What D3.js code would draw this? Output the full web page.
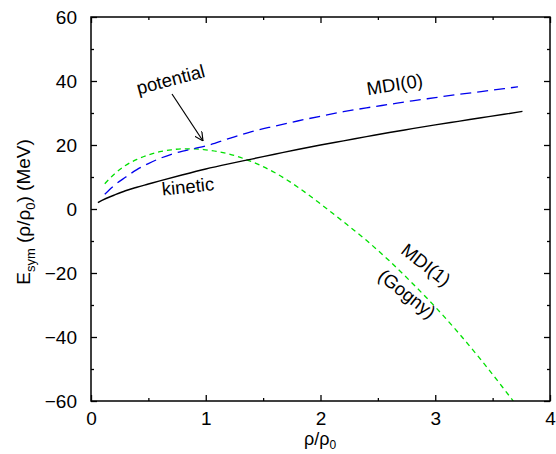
<!DOCTYPE html>
<html><head><meta charset="utf-8">
<script src="https://cdn.jsdelivr.net/npm/d3@7"></script>
<style>body{margin:0;background:#fff}svg{display:block}text{font-family:"Liberation Sans",Arial,sans-serif;fill:#000}</style>
</head><body><svg id="c" width="556" height="454"></svg>
<script>
const kineticX = [0.06,0.1,0.2,0.3,0.4,0.5,0.6,0.8,1.0,1.2,1.4,1.6,1.8,2.0,2.2,2.4,2.6,2.8,3.0,3.2,3.4,3.6,3.76];
const kineticY = [2.0,2.8,4.3,5.7,6.8,7.8,8.8,10.7,12.5,14.1,15.6,17.1,18.6,20.0,21.3,22.6,23.9,25.1,26.3,27.4,28.5,29.6,30.5];
const mdi0X = [0.12,0.2,0.3,0.4,0.5,0.6,0.7,0.8,0.9,1.0,1.2,1.4,1.6,1.8,2.0,2.2,2.4,2.6,2.8,3.0,3.2,3.4,3.6,3.72];
const mdi0Y = [4.6,7.3,9.9,12.3,14.2,15.8,17.1,18.1,18.9,19.7,22.0,24.2,25.9,27.5,29.0,30.4,31.6,32.7,33.8,34.8,35.8,36.7,37.6,38.2];
const mdi1X = [0.12,0.2,0.3,0.4,0.5,0.6,0.7,0.8,0.9,1.0,1.1,1.2,1.4,1.6,1.8,2.0,2.2,2.4,2.6,2.8,3.0,3.2,3.4,3.6,3.68];
const mdi1Y = [7.9,10.8,13.6,15.5,16.9,17.9,18.5,18.8,18.8,18.5,18.0,17.2,14.8,11.4,6.9,1.6,-4.0,-9.8,-16.2,-23.2,-30.6,-38.6,-47.2,-56.3,-60.0];
const xTicks = [0,1,2,3,4];
const yTicks = [-60,-40,-20,0,20,40,60];

const L=91,R=550,T=17,B=401;
const svg=d3.select("#c");
const x=d3.scaleLinear().domain([0,4]).range([L,R]);
const y=d3.scaleLinear().domain([-60,60]).range([B,T]);

const line=d3.line().x(d=>x(d[0])).y(d=>y(d[1])).curve(d3.curveMonotoneX);
const defs=svg.append("defs");
defs.append("clipPath").attr("id","pc").append("rect").attr("x",L).attr("y",T).attr("width",R-L).attr("height",B-T);
const g=svg.append("g").attr("clip-path","url(#pc)");
g.append("path").datum(d3.zip(mdi1X,mdi1Y)).attr("d",line).attr("fill","none").attr("stroke","#00e000").attr("stroke-width",1.3).attr("stroke-dasharray","5,4");
g.append("path").datum(d3.zip(mdi0X,mdi0Y)).attr("d",line).attr("fill","none").attr("stroke","#0000ee").attr("stroke-width",1.3).attr("stroke-dasharray","11,6");
g.append("path").datum(d3.zip(kineticX,kineticY)).attr("d",line).attr("fill","none").attr("stroke","#000").attr("stroke-width",1.4);

const xMinor=d3.range(0.5,4,1), yMinor=d3.range(-50,60,20);
function ax(axisFn,scale,major,minor,tr,labels,pad){
  const a=svg.append("g").attr("transform",tr);
  a.call(axisFn(scale).tickValues(major).tickSize(-6).tickFormat(labels?(d=>d<0?"\u2212"+(-d):d):"" ).tickPadding(pad));
  a.append("g").call(axisFn(scale).tickValues(minor).tickSize(-3).tickFormat(""));
  a.selectAll(".domain").remove();
  a.selectAll("line").attr("stroke","#000").attr("stroke-width",1.3);
  a.selectAll("text").style("font-size","19px").attr("fill","#000");
  return a;
}
ax(d3.axisBottom,x,xTicks,xMinor,`translate(0,${B})`,true,11);
ax(d3.axisTop,x,xTicks,xMinor,`translate(0,${T})`,false,8);
ax(d3.axisLeft,y,yTicks,yMinor,`translate(${L},0)`,true,14);
ax(d3.axisRight,y,yTicks,yMinor,`translate(${R},0)`,false,8);
svg.append("rect").attr("x",L).attr("y",T).attr("width",R-L).attr("height",B-T).attr("fill","none").attr("stroke","#000").attr("stroke-width",1.5);

const xl=svg.append("text").attr("x",320).attr("y",445).attr("text-anchor","middle").style("font-size","18px");
xl.append("tspan").text("\u03c1/\u03c1");
xl.append("tspan").attr("dy",4).style("font-size","12px").text("0");
const yl=svg.append("text").attr("transform","translate(30,212) rotate(-90)").attr("text-anchor","middle").style("font-size","19px");
yl.append("tspan").text("E");
yl.append("tspan").attr("dy",5).style("font-size","13px").text("sym");
yl.append("tspan").attr("dy",-5).text(" (\u03c1/\u03c1");
yl.append("tspan").attr("dy",5).style("font-size","13px").text("0");
yl.append("tspan").attr("dy",-5).text(") (MeV)");

function lab(t,cx,cy,ang){svg.append("text").attr("transform",`translate(${cx},${cy}) rotate(${ang})`).attr("text-anchor","middle").attr("dominant-baseline","middle").style("font-size","18.5px").text(t);}
lab("potential",171,81,-15);
lab("kinetic",188,188,-6);
lab("MDI(0)",395,86,-9);
lab("MDI(1)",425,266,38);
lab("(Gogny)",406,295,38);
defs.append("marker").attr("id","ah").attr("viewBox","0 0 10 10").attr("refX",10).attr("refY",5).attr("markerWidth",9).attr("markerHeight",9).attr("markerUnits","userSpaceOnUse").attr("orient","auto")
  .append("path").attr("d","M0,0 L10,5 L0,10").attr("fill","none").attr("stroke","#000").attr("stroke-width",1.3);
svg.append("line").attr("x1",172).attr("y1",94).attr("x2",203).attr("y2",141).attr("stroke","#000").attr("stroke-width",1.2).attr("marker-end","url(#ah)");
</script></body></html>
